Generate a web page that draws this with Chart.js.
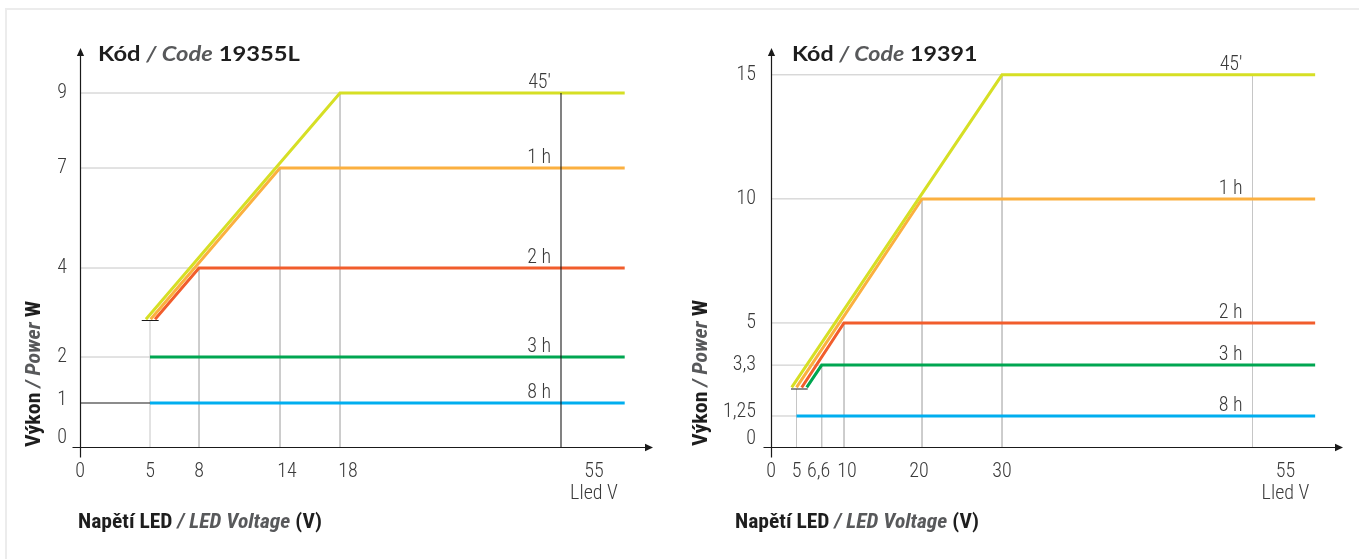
<!DOCTYPE html>
<html>
<head>
<meta charset="utf-8">
<script src="https://cdn.jsdelivr.net/npm/chart.js@4.4.1/dist/chart.umd.min.js"></script>
<style>
html,body{margin:0;padding:0;background:#fff;width:1359px;height:559px;overflow:hidden;position:relative;}
.frame{position:absolute;left:5px;top:8px;width:1400px;height:600px;border-top:2px solid #ececec;border-left:2px solid #ececec;box-sizing:border-box;}
canvas{position:absolute;top:0;}
.code{position:absolute;font-family:Lato,'Open Sans',sans-serif;font-weight:700;font-size:20px;line-height:24px;color:#1e1e1e;white-space:nowrap;transform-origin:0 0;}
.code i{color:#58595b;font-weight:700;}
.ax{position:absolute;left:0;top:0;font-family:'Roboto Condensed','Liberation Sans Narrow','Arial Narrow',Roboto,sans-serif;font-weight:700;font-size:21px;line-height:24px;color:#1e1e1e;white-space:nowrap;transform-origin:0 0;}
.ax i{color:#58595b;}
</style>
</head>
<body>
<div class="frame"></div>
<canvas id="c1" width="680" height="559" style="left:0px"></canvas>
<canvas id="c2" width="679" height="559" style="left:680px"></canvas>
<div class="code" id="t1">Kód <i>/ Code</i> 19355L</div>
<div class="code" id="t2">Kód <i>/ Code</i> 19391</div>
<div class="ax" id="x1">Napětí LED <i>/ LED Voltage</i> (V)</div>
<div class="ax" id="x2">Napětí LED <i>/ LED Voltage</i> (V)</div>
<div class="ax" id="y1">Výkon <i>/ Power</i> W</div>
<div class="ax" id="y2">Výkon <i>/ Power</i> W</div>
<script>
// ---------- DATA ----------
const seriesLabels = ['45′', '1 h', '2 h', '3 h', '8 h'];
const labelAtX = 55;
const xUnitLabel = 'Lled V';

// Chart 1 : Kód 19355L
const L_xTicks = [0, 5, 8, 14, 18, 55];
const L_yTicks = [0, 1, 2, 4, 7, 9];
const L_s45 = [[4.71, 2.85], [18, 9], [62, 9]];
const L_s1h = [[5.04, 2.85], [14, 7], [62, 7]];
const L_s2h = [[5.31, 2.85], [8, 4], [62, 4]];
const L_s3h = [[5, 2], [62, 2]];
const L_s8h = [[5, 1], [62, 1]];
const L_grayGuides = [
  [[0, 9], [18, 9], [18, 0]],
  [[0, 7], [14, 7], [14, 0]],
  [[0, 4], [8, 4], [8, 0]],
  [[0, 2], [5, 2]],
  [[5, 0], [5, 2.82]]
];
const L_blackGuides = [
  [[0, 1], [5, 1]],
  [[55, 0], [55, 9]],
  [[4.41, 2.82], [5.53, 2.82]]
];

// Chart 2 : Kód 19391
const R_xTicks = [0, 5, 6.6, 10, 20, 30, 55];
const R_yTicks = [0, 1.25, 3.3, 5, 10, 15];
const R_s45 = [[4.06, 2.4], [30, 15], [62, 15]];
const R_s1h = [[5.0, 2.4], [20, 10], [62, 10]];
const R_s2h = [[5.33, 2.4], [10, 5], [62, 5]];
const R_s3h = [[5.65, 2.4], [6.6, 3.3], [62, 3.3]];
const R_s8h = [[5, 1.25], [62, 1.25]];
const R_grayGuides = [
  [[0, 15], [30, 15], [30, 0]],
  [[0, 10], [20, 10], [20, 0]],
  [[0, 5], [10, 5], [10, 0]],
  [[0, 3.3], [6.6, 3.3], [6.6, 0]],
  [[0, 1.25], [5, 1.25]],
  [[5, 0], [5, 2.34]],
  [[55, 0], [55, 15]]
];
const R_blackGuides = [
  [[3.92, 2.34], [5.71, 2.34]]
];

// ---------- STYLE ----------
const SERIES_COLORS = ['#d6df25', '#fbb040', '#f15d2c', '#00a651', '#00aeef'];
const TICK_FONT = { family: "'Roboto Condensed','Liberation Sans Narrow','Arial Narrow',Roboto,sans-serif", size: 20, weight: '300', lineHeight: 1.1 };
const TEXT_COLOR = '#3a3a3a';

// ---------- piecewise scale (schematic axis) ----------
class PiecewiseScale extends Chart.LinearScale {
  static id = 'piecewise';
  static defaults = {};
  determineDataLimits() {
    const k = this.options.knots;
    this.min = k[0][0];
    this.max = k[k.length - 1][0];
  }
  buildTicks() {
    return this.options.tickValues.map(v => ({ value: v }));
  }
  _dec(v) {
    const k = this.options.knots, end = k[k.length - 1][1];
    if (v <= k[0][0]) return k[0][1] / end;
    for (let i = 1; i < k.length; i++) {
      if (v <= k[i][0]) {
        const t = (v - k[i - 1][0]) / (k[i][0] - k[i - 1][0]);
        return (k[i - 1][1] + t * (k[i][1] - k[i - 1][1])) / end;
      }
    }
    return 1;
  }
  getPixelForValue(v) {
    return (v === null || v === undefined) ? NaN : this.getPixelForDecimal(this._dec(v));
  }
  getValueForPixel(p) {
    const d = this.getDecimalForPixel(p);
    const k = this.options.knots, end = k[k.length - 1][1], off = d * end;
    for (let i = 1; i < k.length; i++) {
      if (off <= k[i][1]) {
        const t = (off - k[i - 1][1]) / (k[i][1] - k[i - 1][1]);
        return k[i - 1][0] + t * (k[i][0] - k[i - 1][0]);
      }
    }
    return k[k.length - 1][0];
  }
  _computeLabelItems(ca) {
    const items = super._computeLabelItems(ca);
    const sh = this.options.labelShift || {};
    items.forEach((it, i) => {
      const t = this.ticks[i];
      const s = t && sh[t.value];
      if (s) {
        const tr = it.options.translation;
        it.options.translation = [tr[0] + s[0], tr[1] + s[1]];
      }
    });
    return items;
  }
}
Chart.register(PiecewiseScale);

const fmt = v => (v === labelAtX ? [String(v), xUnitLabel] : String(v).replace('.', ','));
const toXY = pts => pts.map(p => ({ x: p[0], y: p[1] }));

const axesPlugin = {
  id: 'axesArrows',
  afterDraw(chart) {
    const { ctx, chartArea: a } = chart;
    const x0 = Math.round(a.left) + 0.5, y0 = Math.round(a.bottom) + 0.5;
    ctx.save();
    ctx.strokeStyle = '#1a1a1a';
    ctx.fillStyle = '#1a1a1a';
    ctx.lineWidth = 1.2;
    ctx.beginPath(); ctx.moveTo(x0, y0 + 10); ctx.lineTo(x0, a.top + 5); ctx.stroke();
    ctx.beginPath(); ctx.moveTo(x0 - 8, y0); ctx.lineTo(a.right - 5, y0); ctx.stroke();
    ctx.beginPath(); ctx.moveTo(x0, a.top - 2); ctx.lineTo(x0 - 3.6, a.top + 6); ctx.lineTo(x0 + 3.6, a.top + 6); ctx.closePath(); ctx.fill();
    ctx.beginPath(); ctx.moveTo(a.right + 1, y0); ctx.lineTo(a.right - 7, y0 - 3.7); ctx.lineTo(a.right - 7, y0 + 3.7); ctx.closePath(); ctx.fill();
    ctx.restore();
  }
};

const lineLabelPlugin = {
  id: 'lineLabels',
  afterDatasetsDraw(chart) {
    const { ctx } = chart, xs = chart.scales.x, ys = chart.scales.y;
    const px = xs.getPixelForValue(labelAtX) - 10;
    ctx.save();
    ctx.font = `${TICK_FONT.weight} ${TICK_FONT.size}px ${TICK_FONT.family}`;
    ctx.fillStyle = TEXT_COLOR;
    ctx.textAlign = 'right';
    ctx.textBaseline = 'alphabetic';
    chart.data.datasets.forEach(ds => {
      if (!ds.seriesLabel) return;
      const last = ds.data[ds.data.length - 1];
      ctx.fillText(ds.seriesLabel, px, ys.getPixelForValue(last.y) - 5);
    });
    ctx.restore();
  }
};

function makeChart(id, cfg) {
  const datasets = [];
  cfg.series.forEach((pts, i) => datasets.push({
    data: toXY(pts), borderColor: SERIES_COLORS[i], borderWidth: 3, order: 1, seriesLabel: seriesLabels[i]
  }));
  cfg.gray.forEach(pts => datasets.push({ data: toXY(pts), borderColor: '#c6c6c6', borderWidth: 1, order: 2 }));
  cfg.black.forEach(pts => datasets.push({ data: toXY(pts), borderColor: '#1a1a1a', borderWidth: 1.1, order: 0 }));
  return new Chart(document.getElementById(id), {
    type: 'line',
    data: { datasets },
    options: {
      responsive: false, animation: false, events: [],
      layout: { padding: { top: 50, right: cfg.padRight, left: 0, bottom: 0 } },
      elements: { point: { radius: 0 }, line: { tension: 0, fill: false, borderCapStyle: 'butt', borderJoinStyle: 'miter' } },
      plugins: { legend: { display: false }, tooltip: { enabled: false }, title: { display: false } },
      scales: {
        x: {
          type: 'piecewise', position: 'bottom',
          knots: cfg.xKnots, tickValues: cfg.xTicks, labelShift: cfg.xShift,
          grid: { display: false, drawTicks: false }, border: { display: false },
          ticks: { autoSkip: false, maxRotation: 0, minRotation: 0, padding: 14, font: TICK_FONT, color: TEXT_COLOR, callback: fmt },
          afterFit: s => { s.height = 112; }
        },
        y: {
          type: 'piecewise', position: 'left',
          knots: cfg.yKnots, tickValues: cfg.yTicks, labelShift: cfg.yShift,
          grid: { display: false, drawTicks: false }, border: { display: false },
          ticks: { autoSkip: false, padding: cfg.yPad, font: TICK_FONT, color: TEXT_COLOR, callback: v => String(v).replace('.', ',') },
          afterFit: s => { s.width = cfg.yWidth; }
        }
      }
    },
    plugins: [axesPlugin, lineLabelPlugin]
  });
}

makeChart('c1', {
  series: [L_s45, L_s1h, L_s2h, L_s3h, L_s8h], gray: L_grayGuides, black: L_blackGuides,
  xTicks: L_xTicks, yTicks: L_yTicks,
  xKnots: [[0, 0], [5, 70], [8, 119], [14, 200], [18, 260], [55, 481], [65, 572]],
  yKnots: [[0, 0], [1, 44], [2, 90], [4, 179], [7, 279], [9, 354], [10, 397]],
  xShift: { 14: [7, 0], 18: [8, 0], 55: [33, 0] },
  yShift: { 0: [0, -9], 1: [0, -3] },
  yWidth: 80, yPad: 13, padRight: 28
});
makeChart('c2', {
  series: [R_s45, R_s1h, R_s2h, R_s3h, R_s8h], gray: R_grayGuides, black: R_blackGuides,
  xTicks: R_xTicks, yTicks: R_yTicks,
  xKnots: [[0, 0], [5, 25.5], [6.6, 50.7], [10, 73], [20, 151], [30, 231], [55, 481.5], [65, 571]],
  yKnots: [[0, 0], [16, 397]],
  xShift: { 6.6: [-3, 0], 10: [3, 0], 20: [-3, 0], 55: [33, 0] },
  yShift: { 0: [0, -8], 1.25: [0, -4] },
  yWidth: 91, yPad: 15, padRight: 17
});

// ---------- HTML text placement ----------
function place(id, x, y, targetW, rotate) {
  const el = document.getElementById(id);
  const w = el.offsetWidth, h = el.offsetHeight;
  const k = targetW / w;
  if (rotate) {
    el.style.transform = `translate(${x - h / 2}px, ${y}px) rotate(-90deg) scaleX(${k})`;
  } else {
    el.style.transform = `translate(${x}px, ${y - h / 2}px) scaleX(${k})`;
  }
}
function layoutText() {
  place('t1', 98, 53, 202, false);
  place('t2', 792, 53, 186, false);
  place('x1', 78, 521, 244, false);
  place('x2', 735, 521, 244, false);
  place('y1', 33, 447, 146, true);
  place('y2', 700, 446, 146, true);
}
layoutText();
if (document.fonts && document.fonts.ready) document.fonts.ready.then(layoutText);
</script>
</body>
</html>
